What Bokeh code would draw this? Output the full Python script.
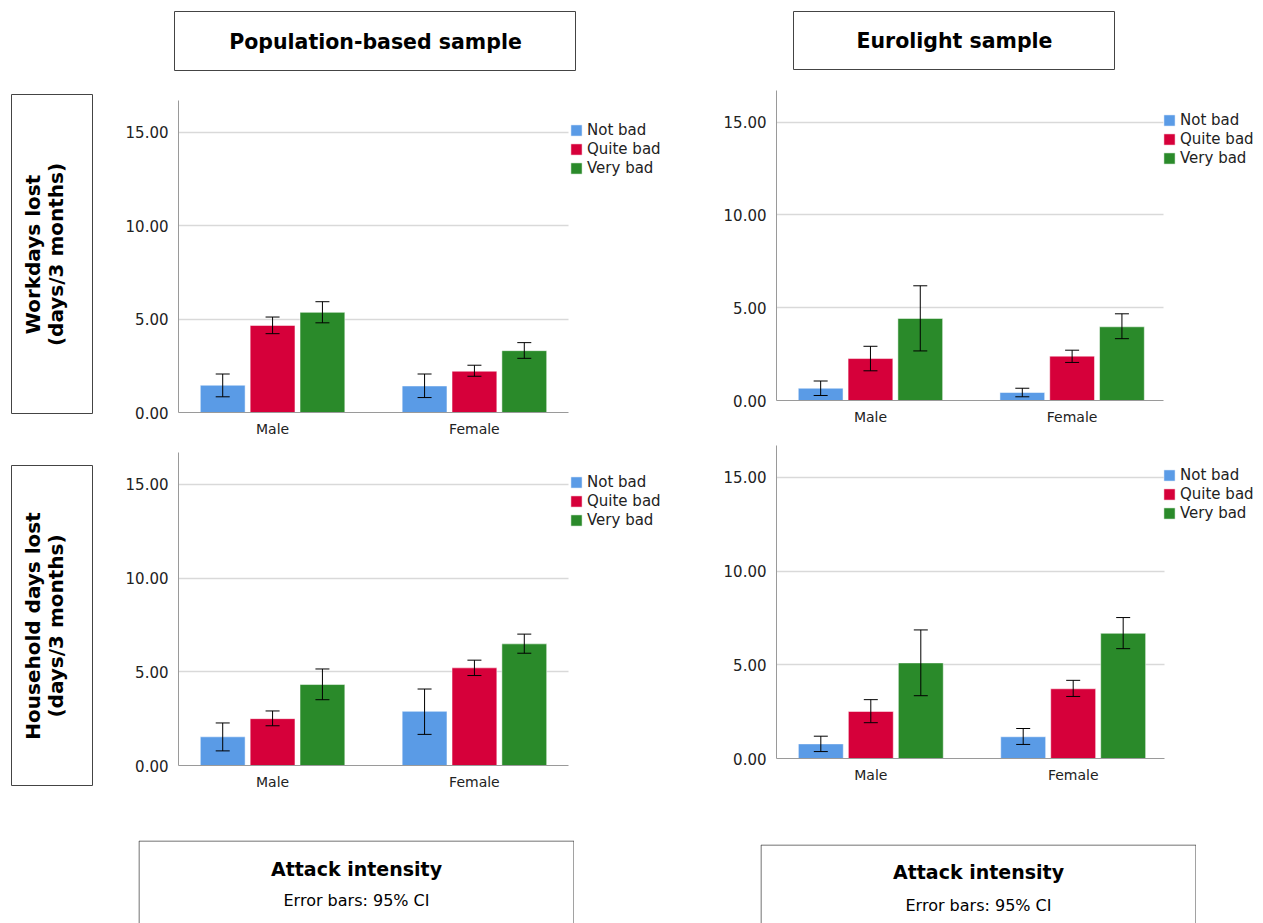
from bokeh.plotting import figure
from bokeh.models import (Range1d, FixedTicker, PrintfTickFormatter, ColumnDataSource,
                          Whisker, TeeHead, Legend, LegendItem, Label, Spacer)
from bokeh.layouts import row, column
from bokeh.embed import file_html
from bokeh.resources import INLINE
import math

# ---------------- data ----------------
categories = ["Male", "Female"]
intensity = ["Not bad", "Quite bad", "Very bad"]
colors = ["#5A9BE6", "#D6003A", "#2A8A2A"]

# [intensity][gender]  (Male, Female)
pop_work_mean = [[1.46, 1.42], [4.66, 2.21], [5.36, 3.31]]
pop_work_low = [[0.84, 0.80], [4.22, 1.94], [4.80, 2.90]]
pop_work_high = [[2.06, 2.06], [5.11, 2.53], [5.93, 3.74]]

euro_work_mean = [[0.66, 0.43], [2.26, 2.39], [4.42, 3.97]]
euro_work_low = [[0.27, 0.20], [1.60, 2.05], [2.67, 3.33]]
euro_work_high = [[1.05, 0.66], [2.92, 2.71], [6.18, 4.67]]

pop_house_mean = [[1.53, 2.89], [2.50, 5.21], [4.32, 6.49]]
pop_house_low = [[0.78, 1.66], [2.12, 4.80], [3.51, 5.99]]
pop_house_high = [[2.27, 4.08], [2.91, 5.62], [5.15, 7.01]]

euro_house_mean = [[0.78, 1.16], [2.51, 3.72], [5.10, 6.68]]
euro_house_low = [[0.37, 0.75], [1.91, 3.31], [3.35, 5.86]]
euro_house_high = [[1.19, 1.60], [3.14, 4.17], [6.86, 7.52]]

y_ticks = [0, 5, 10, 15]

sample_titles = ["Population-based sample", "Eurolight sample"]
row_titles = [["Workdays lost", "(days/3 months)"], ["Household days lost", "(days/3 months)"]]
footer_title = "Attack intensity"
footer_note = "Error bars: 95% CI"

FONT = "DejaVu Sans"
BAR_W = 0.222
BAR_OFF = 0.247
X0, X1 = -0.466, 1.466


def bar_panel(means, lows, highs, width, height, left, frame_w, top, frame_h, grid_w, legend_dx):
    # data area is frame_w px wide; frame continues to the right edge to host the legend
    px_per_unit = frame_w / (X1 - X0)
    x_end = X0 + (width - left) / px_per_unit
    grid_end = X0 + grid_w / px_per_unit
    p = figure(width=width, height=height,
               x_range=Range1d(X0, x_end), y_range=Range1d(0, 16.7),
               toolbar_location=None, output_backend="svg",
               min_border_left=left, min_border_right=0,
               min_border_top=top, min_border_bottom=height - top - frame_h)
    p.outline_line_color = None
    items = []
    for k, name in enumerate(intensity):
        xs = [g + (k - 1) * BAR_OFF for g in range(len(categories))]
        src = ColumnDataSource(dict(x=xs, top=means[k], lower=lows[k], upper=highs[k]))
        r = p.vbar(x="x", top="top", bottom=0, width=BAR_W, source=src,
                   fill_color=colors[k], line_color="white", line_alpha=0.5, line_width=1)
        w = Whisker(source=src, base="x", lower="lower", upper="upper",
                    line_color="black", line_width=1, level="annotation",
                    upper_head=TeeHead(size=14, line_color="black", line_width=1),
                    lower_head=TeeHead(size=14, line_color="black", line_width=1))
        p.add_layout(w)
        items.append(LegendItem(label=name, renderers=[r]))
    legend = Legend(items=items, location=(frame_w + legend_dx, frame_h - 77),
                    padding=0, margin=0, spacing=1, label_height=18,
                    glyph_height=14, glyph_width=14, label_standoff=4,
                    label_text_font=FONT, label_text_font_size="15px",
                    label_text_color="#222222", border_line_color=None,
                    background_fill_alpha=0)
    p.add_layout(legend)

    yt = FixedTicker(ticks=y_ticks)
    p.yaxis.ticker = yt
    p.ygrid.ticker = yt
    p.ygrid.cross_bounds = (X0, grid_end)
    p.xaxis.bounds = (X0, grid_end)
    p.yaxis.formatter = PrintfTickFormatter(format="%.2f")
    p.xaxis.ticker = FixedTicker(ticks=list(range(len(categories))))
    p.xaxis.major_label_overrides = {i: c for i, c in enumerate(categories)}
    for ax in (p.xaxis, p.yaxis):
        ax.major_tick_line_color = None
        ax.minor_tick_line_color = None
        ax.axis_line_color = "#9a9a9a"
        ax.major_label_text_font = FONT
        ax.major_label_text_color = "#222222"
    p.yaxis.major_label_text_font_size = "15px"
    p.xaxis.major_label_text_font_size = "14px"
    p.yaxis.major_label_standoff = 4
    p.xaxis.major_label_standoff = 2
    p.xgrid.visible = False
    p.ygrid.grid_line_color = "#d9d9d9"
    p.ygrid.grid_line_width = 1.5
    return p


def box(width, height, outline=True):
    p = figure(width=width, height=height, x_range=Range1d(0, width), y_range=Range1d(0, height),
               x_axis_type=None, y_axis_type=None, toolbar_location=None,
               output_backend="svg", min_border=0)
    p.grid.visible = False
    if outline:
        p.outline_line_color = "#444444"
        p.outline_line_width = 1
    else:
        p.outline_line_color = None
        p.line(x=[0.5, 0.5, width - 0.5, width - 0.5], y=[-10, height - 0.5, height - 0.5, -10],
               line_color="#444444", line_width=1)
    return p


def header(text, width, height):
    p = box(width, height)
    p.add_layout(Label(x=width / 2, y=height / 2, text=text, text_align="center",
                       text_baseline="middle", text_font=FONT, text_font_size="20.5px",
                       text_font_style="bold", text_color="black"))
    return p


def side(lines, width, height):
    p = box(width, height)
    for i, t in enumerate(lines):
        p.add_layout(Label(x=21 + 23 * i, y=height / 2, text=t, angle=math.pi / 2,
                           text_align="center", text_baseline="middle", text_font=FONT,
                           text_font_size="20px", text_font_style="bold", text_color="black"))
    return p


def footer(width, height, y1, y2):
    p = box(width, height, outline=False)
    p.add_layout(Label(x=width / 2, y=y1, text=footer_title, text_align="center",
                       text_baseline="middle", text_font=FONT, text_font_size="19px",
                       text_font_style="bold", text_color="black"))
    p.add_layout(Label(x=width / 2, y=y2, text=footer_note, text_align="center",
                       text_baseline="middle", text_font=FONT, text_font_size="16px",
                       text_color="black"))
    return p


p1 = bar_panel(pop_work_mean, pop_work_low, pop_work_high, 570, 369, 58, 390, 29, 312, 390, 1)
p3 = bar_panel(pop_house_mean, pop_house_low, pop_house_high, 570, 353, 58, 390, 12, 313, 390, 1)
p2 = bar_panel(euro_work_mean, euro_work_low, euro_work_high, 570, 360, 83, 392, 20, 310, 389, -6)
p4 = bar_panel(euro_house_mean, euro_house_low, euro_house_high, 570, 356, 86, 391, 15, 313, 388, -5)

col1 = column(Spacer(width=120, height=94),
              row(Spacer(width=11, height=320), side(row_titles[0], 82, 320), Spacer(width=27, height=320)),
              Spacer(width=120, height=51),
              row(Spacer(width=11, height=321), side(row_titles[1], 82, 321), Spacer(width=27, height=321)))

col2 = column(Spacer(width=570, height=11),
              row(Spacer(width=54, height=60), header(sample_titles[0], 402, 60)),
              p1, p3,
              Spacer(width=570, height=47),
              row(Spacer(width=18, height=83), footer(436, 83, 55, 23)))

col3 = column(Spacer(width=570, height=11),
              row(Spacer(width=103, height=59), header(sample_titles[1], 322, 59)),
              p2, p4,
              Spacer(width=570, height=58),
              row(Spacer(width=70, height=79), footer(436, 79, 52, 18)))

layout = row(col1, col2, col3)

open("out.html", "w").write(file_html(layout, INLINE))
